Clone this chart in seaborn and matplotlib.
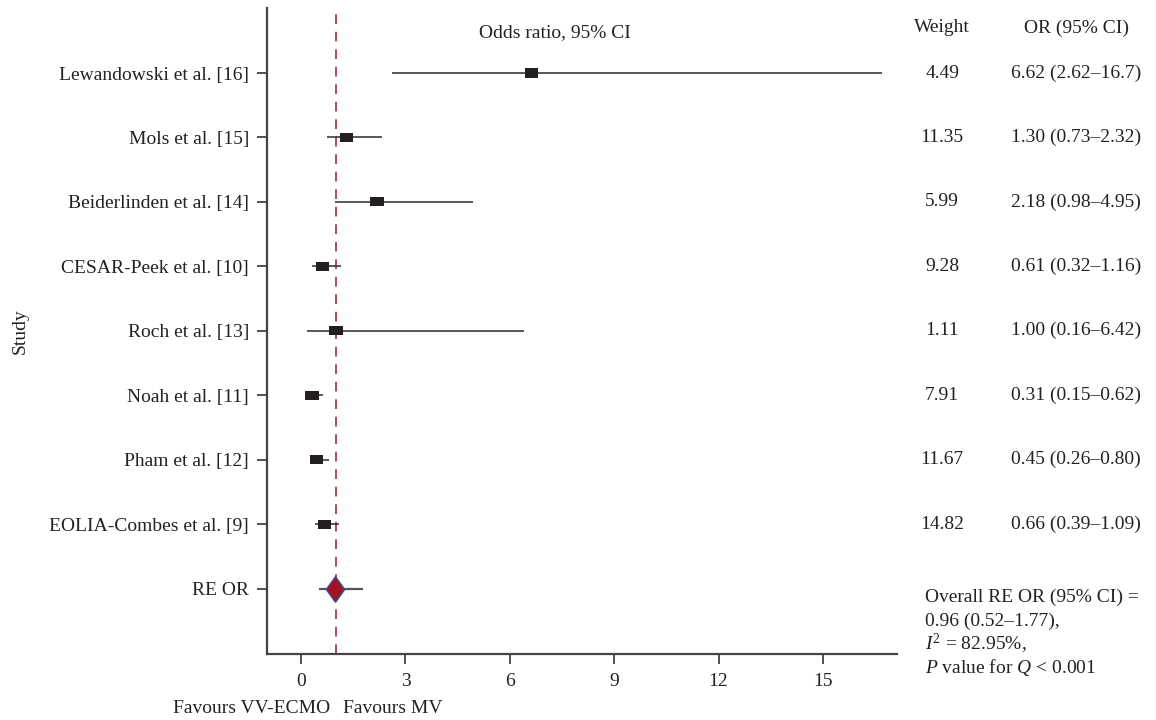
import pandas as pd
import matplotlib
matplotlib.use('Agg')
import matplotlib.pyplot as plt
import matplotlib.transforms as mtransforms
import seaborn as sns
from matplotlib import rcParams

studies = ['Lewandowski et al. [16]', 'Mols et al. [15]', 'Beiderlinden et al. [14]',
           'CESAR-Peek et al. [10]', 'Roch et al. [13]', 'Noah et al. [11]',
           'Pham et al. [12]', 'EOLIA-Combes et al. [9]']
odds = [6.62, 1.30, 2.18, 0.61, 1.00, 0.31, 0.45, 0.66]
ci_low = [2.62, 0.73, 0.98, 0.32, 0.16, 0.15, 0.26, 0.39]
ci_high = [16.7, 2.32, 4.95, 1.16, 6.42, 0.62, 0.80, 1.09]
weights = [4.49, 11.35, 5.99, 9.28, 1.11, 7.91, 11.67, 14.82]
pooled_label = 'RE OR'
pooled = [0.96]
pooled_low = [0.52]
pooled_high = [1.77]
x_ticks = [0, 3, 6, 9, 12, 15]
summary_lines = ['Overall RE OR (95% CI) =', '0.96 (0.52\u20131.77),',
                 r'$I^2$ = 82.95%,', r'$P$ value for $Q$ < 0.001']


def set_rcParams():
    sns.set_style('ticks')
    rcParams['font.family'] = ['Liberation Serif', 'DejaVu Serif']
    rcParams['mathtext.fontset'] = 'custom'
    rcParams['mathtext.rm'] = 'Liberation Serif'
    rcParams['mathtext.it'] = 'Liberation Serif:italic'
    rcParams['xtick.labelsize'] = 14
    rcParams['ytick.labelsize'] = 14


def plot_data(png_path):
    df = pd.DataFrame({'study': studies, 'odds': odds, 'lo': ci_low, 'hi': ci_high,
                       'weight': weights})
    df['pos'] = range(len(df))
    pdf = pd.DataFrame({'study': [pooled_label], 'odds': pooled, 'lo': pooled_low,
                        'hi': pooled_high, 'pos': [len(df)]})

    fig, ax = plt.subplots(figsize=(11.56, 7.2), dpi=100)
    fig.subplots_adjust(left=0.231, right=0.776, bottom=0.092, top=0.989)

    ax.axvline(1, color='#b8455a', lw=1.4, ls=(0, (5, 4)), zorder=1)
    ax.hlines(df['pos'], df['lo'], df['hi'], color='#2b2b2b', lw=1.1, zorder=2)
    ax.hlines(pdf['pos'], pdf['lo'], pdf['hi'], color='#555555', lw=1.6, zorder=2)

    rect = [(-1.45, -1), (1.45, -1), (1.45, 1), (-1.45, 1), (-1.45, -1)]
    sns.scatterplot(data=df, x='odds', y='pos', marker=rect, s=90, color='#231f20',
                    edgecolor='none', ax=ax, zorder=3, legend=False)
    diamond = [(0, -1), (0.72, 0), (0, 1), (-0.72, 0), (0, -1)]
    sns.scatterplot(data=pdf, x='odds', y='pos', marker=diamond, s=340, color='#a3121f',
                    edgecolor='#3a4a9c', linewidth=1.0, ax=ax, zorder=4, legend=False)

    ax.set_xlim(-0.98, 17.13)
    ax.set_ylim(9.01, -1.01)
    ax.set_xticks(x_ticks)
    ax.set_yticks(list(range(len(studies) + 1)))
    ax.set_yticklabels(studies + [pooled_label])
    ax.tick_params(axis='both', direction='out', length=7, width=1.2, colors='#333333',
                   labelcolor='#222222', pad=6)
    ax.tick_params(axis='x', pad=7)
    for side in ['top', 'right']:
        ax.spines[side].set_visible(False)
    for side in ['left', 'bottom']:
        ax.spines[side].set_linewidth(1.6)
        ax.spines[side].set_color('#444444')

    ax.set_xlabel('')
    ax.set_ylabel('Study', fontsize=14, color='#222222')
    ax.yaxis.set_label_coords(-0.378, 0.5)

    ax.text(7.3, -0.62, 'Odds ratio, 95% CI', fontsize=14, ha='center', va='center',
            color='#222222')

    xa = mtransforms.blended_transform_factory(ax.transData, ax.transAxes)
    ax.text(0.83, -0.084, 'Favours VV-ECMO', transform=xa, ha='right', va='center',
            fontsize=14, color='#222222', clip_on=False)
    ax.text(1.2, -0.084, 'Favours MV', transform=xa, ha='left', va='center',
            fontsize=14, color='#222222', clip_on=False)

    fy = mtransforms.blended_transform_factory(fig.transFigure, ax.transData)
    ax.text(0.815, -0.7, 'Weight', transform=fy, ha='center', va='center',
            fontsize=14, color='#222222')
    ax.text(0.931, -0.7, 'OR (95% CI)', transform=fy, ha='center', va='center',
            fontsize=14, color='#222222')
    for i in range(len(studies)):
        ax.text(0.815, i, '%.2f' % weights[i], transform=fy, ha='center', va='center',
                fontsize=14, color='#222222')
        hi_txt = '%.1f' % ci_high[i] if ci_high[i] >= 10 else '%.2f' % ci_high[i]
        ax.text(0.931, i, '%.2f (%.2f\u2013%s)' % (odds[i], ci_low[i], hi_txt),
                transform=fy, ha='center', va='center', fontsize=14, color='#222222')
    for k, line in enumerate(summary_lines):
        ax.text(0.8, 8.14 + k * 0.36, line, transform=fy, ha='left', va='center',
                fontsize=14, color='#222222')

    fig.savefig(png_path, facecolor='white', dpi=100)
    plt.close()


def main():
    set_rcParams()
    plot_data('out.png')


if __name__ == "__main__":
    main()
